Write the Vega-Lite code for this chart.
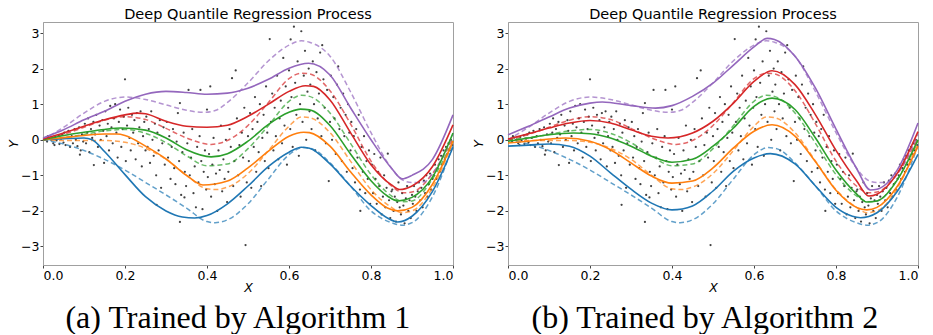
{
"$schema":"https://vega.github.io/schema/vega-lite/v6.json",
"padding":{"left":7,"right":5,"top":6,"bottom":0},
"background":"white",
"config":{
"view":{"stroke":"#a0a0a0","strokeWidth":1},
"font":"DejaVu Sans",
"axis":{"grid":false,"domainColor":"#a0a0a0","tickColor":"#444","tickSize":3,"labelFontSize":12.5,"labelColor":"#000","labelFont":"DejaVu Sans","titleFont":"DejaVu Sans","titleFontSize":12.5,"titleFontWeight":"normal","titleFontStyle":"italic","titleColor":"#000","labelPadding":1},
"title":{"font":"DejaVu Sans","fontSize":14.5,"fontWeight":"normal","color":"#000","offset":2,"dy":2},
"concat":{"spacing":15}
},
"datasets":{
"pts":[
{"x":0.005,"y":0.02},{"x":0.01,"y":-0.05},{"x":0.015,"y":0.06},{"x":0.02,"y":0.0},{"x":0.025,"y":-0.1},{"x":0.03,"y":0.08},{"x":0.033,"y":-0.02},{"x":0.038,"y":0.12},{"x":0.04,"y":-0.12},{"x":0.044,"y":0.03},{"x":0.047,"y":0.15},{"x":0.05,"y":-0.08},{"x":0.012,"y":0.1},{"x":0.028,"y":-0.15},
{"x":0.052,"y":0.2},{"x":0.055,"y":-0.15},{"x":0.058,"y":0.05},{"x":0.062,"y":0.25},{"x":0.066,"y":-0.2},{"x":0.07,"y":0.1},{"x":0.073,"y":-0.1},{"x":0.077,"y":0.3},{"x":0.08,"y":0.0},{"x":0.084,"y":-0.18},{"x":0.088,"y":0.35},{"x":0.092,"y":-0.3},{"x":0.095,"y":0.15},{"x":0.098,"y":-0.05},{"x":0.09,"y":-0.42},
{"x":0.102,"y":0.45},{"x":0.105,"y":-0.1},{"x":0.108,"y":0.2},{"x":0.11,"y":0.6},{"x":0.113,"y":-0.35},{"x":0.117,"y":0.3},{"x":0.12,"y":0.05},{"x":0.123,"y":0.5},{"x":0.124,"y":-0.71},{"x":0.127,"y":0.15},{"x":0.13,"y":0.7},{"x":0.134,"y":-0.2},{"x":0.138,"y":0.4},{"x":0.141,"y":0.0},{"x":0.145,"y":0.55},{"x":0.149,"y":-0.65},{"x":0.147,"y":0.25},
{"x":0.152,"y":0.8},{"x":0.155,"y":0.1},{"x":0.158,"y":0.45},{"x":0.161,"y":-0.3},{"x":0.164,"y":0.95},{"x":0.167,"y":0.35},{"x":0.17,"y":-0.1},{"x":0.173,"y":0.6},{"x":0.176,"y":1.0},{"x":0.179,"y":0.2},{"x":0.182,"y":-0.5},{"x":0.185,"y":0.5},{"x":0.188,"y":0.85},{"x":0.191,"y":-0.2},{"x":0.194,"y":0.3},{"x":0.197,"y":0.65},{"x":0.2,"y":1.7},
{"x":0.202,"y":-0.6},{"x":0.205,"y":0.4},{"x":0.208,"y":0.9},{"x":0.211,"y":0.05},{"x":0.214,"y":-0.3},{"x":0.217,"y":0.7},{"x":0.22,"y":0.2},{"x":0.223,"y":0.55},{"x":0.226,"y":-0.55},{"x":0.229,"y":0.75},{"x":0.232,"y":-0.1},{"x":0.235,"y":0.35},{"x":0.238,"y":0.8},{"x":0.241,"y":-0.75},{"x":0.244,"y":0.1},{"x":0.247,"y":0.5},{"x":0.25,"y":-0.3},
{"x":0.252,"y":0.65},{"x":0.255,"y":-0.2},{"x":0.258,"y":0.3},{"x":0.261,"y":-0.65},{"x":0.264,"y":0.8},{"x":0.267,"y":0.0},{"x":0.27,"y":-0.45},{"x":0.273,"y":0.45},{"x":0.276,"y":-1.0},{"x":0.279,"y":0.2},{"x":0.282,"y":-0.3},{"x":0.285,"y":0.55},{"x":0.288,"y":-1.35},{"x":0.291,"y":-0.1},{"x":0.294,"y":0.35},{"x":0.297,"y":-0.7},{"x":0.277,"y":-1.83},
{"x":0.302,"y":0.5},{"x":0.305,"y":-0.5},{"x":0.308,"y":0.1},{"x":0.311,"y":-1.1},{"x":0.314,"y":-0.2},{"x":0.317,"y":0.3},{"x":0.32,"y":-0.8},{"x":0.323,"y":-1.25},{"x":0.326,"y":-0.05},{"x":0.329,"y":0.75},{"x":0.332,"y":-0.6},{"x":0.334,"y":-2.31},{"x":0.334,"y":1.03},{"x":0.337,"y":-1.55},{"x":0.34,"y":-0.35},{"x":0.343,"y":0.2},{"x":0.346,"y":-0.9},{"x":0.349,"y":-1.3},{"x":0.345,"y":-1.62},
{"x":0.352,"y":-0.1},{"x":0.355,"y":1.4},{"x":0.358,"y":-1.0},{"x":0.361,"y":-0.5},{"x":0.364,"y":0.3},{"x":0.367,"y":-1.5},{"x":0.37,"y":-0.75},{"x":0.373,"y":-1.9},{"x":0.376,"y":-0.2},{"x":0.379,"y":-1.2},{"x":0.382,"y":0.1},{"x":0.384,"y":1.4},{"x":0.386,"y":-0.6},{"x":0.389,"y":-1.95},{"x":0.392,"y":-0.9},{"x":0.395,"y":-0.3},{"x":0.398,"y":-1.4},{"x":0.4,"y":0.85},
{"x":0.402,"y":-1.05},{"x":0.405,"y":-0.4},{"x":0.408,"y":1.5},{"x":0.41,"y":-1.6},{"x":0.413,"y":-0.7},{"x":0.416,"y":0.05},{"x":0.419,"y":-1.25},{"x":0.422,"y":-0.95},{"x":0.425,"y":-2.0},{"x":0.428,"y":-0.3},{"x":0.431,"y":-0.85},{"x":0.434,"y":0.4},{"x":0.437,"y":-1.45},{"x":0.44,"y":-0.55},{"x":0.443,"y":-1.1},{"x":0.446,"y":0.0},{"x":0.449,"y":-1.75},
{"x":0.452,"y":-0.9},{"x":0.455,"y":0.3},{"x":0.458,"y":-0.2},{"x":0.461,"y":1.73},{"x":0.464,"y":-1.3},{"x":0.467,"y":-0.6},{"x":0.47,"y":1.95},{"x":0.473,"y":0.6},{"x":0.476,"y":-1.0},{"x":0.479,"y":-0.15},{"x":0.482,"y":-1.6},{"x":0.485,"y":0.2},{"x":0.488,"y":-0.5},{"x":0.491,"y":0.9},{"x":0.494,"y":-2.96},{"x":0.497,"y":-1.2},{"x":0.5,"y":0.1},
{"x":0.502,"y":-0.6},{"x":0.505,"y":0.75},{"x":0.508,"y":-1.35},{"x":0.511,"y":0.3},{"x":0.514,"y":-0.2},{"x":0.517,"y":1.2},{"x":0.52,"y":-0.9},{"x":0.523,"y":0.5},{"x":0.526,"y":-0.35},{"x":0.529,"y":1.0},{"x":0.532,"y":-1.3},{"x":0.535,"y":0.05},{"x":0.538,"y":0.7},{"x":0.541,"y":-0.6},{"x":0.544,"y":1.5},{"x":0.547,"y":0.2},{"x":0.55,"y":-0.8},{"x":0.553,"y":2.83},
{"x":0.556,"y":0.5},{"x":0.559,"y":1.3},{"x":0.562,"y":-0.3},{"x":0.565,"y":0.9},{"x":0.568,"y":0.1},{"x":0.571,"y":1.8},{"x":0.574,"y":-0.55},{"x":0.577,"y":0.6},{"x":0.58,"y":1.1},{"x":0.583,"y":-0.1},{"x":0.586,"y":2.3},{"x":0.589,"y":0.4},{"x":0.592,"y":1.5},{"x":0.595,"y":-0.7},{"x":0.598,"y":0.9},{"x":0.6,"y":1.95},{"x":0.604,"y":2.82},
{"x":0.603,"y":0.3},{"x":0.606,"y":1.2},{"x":0.609,"y":-0.2},{"x":0.612,"y":3.18},{"x":0.615,"y":1.6},{"x":0.618,"y":0.7},{"x":0.621,"y":2.2},{"x":0.624,"y":-0.45},{"x":0.627,"y":1.0},{"x":0.63,"y":3.05},{"x":0.633,"y":0.5},{"x":0.636,"y":1.8},{"x":0.639,"y":2.5},{"x":0.642,"y":0.0},{"x":0.645,"y":1.35},{"x":0.648,"y":2.0},{"x":0.65,"y":0.8},
{"x":0.652,"y":1.55},{"x":0.655,"y":0.3},{"x":0.658,"y":2.2},{"x":0.661,"y":1.0},{"x":0.664,"y":-0.3},{"x":0.667,"y":1.9},{"x":0.67,"y":0.6},{"x":0.673,"y":1.3},{"x":0.676,"y":2.45},{"x":0.679,"y":0.1},{"x":0.681,"y":2.66},{"x":0.684,"y":1.7},{"x":0.687,"y":0.9},{"x":0.69,"y":-0.1},{"x":0.693,"y":1.4},{"x":0.697,"y":-1.16},{"x":0.7,"y":0.5},
{"x":0.702,"y":1.8},{"x":0.705,"y":0.0},{"x":0.708,"y":1.2},{"x":0.711,"y":0.6},{"x":0.714,"y":-0.4},{"x":0.717,"y":1.55},{"x":0.72,"y":2.06},{"x":0.723,"y":0.3},{"x":0.726,"y":0.9},{"x":0.729,"y":-0.6},{"x":0.732,"y":1.3},{"x":0.735,"y":0.1},{"x":0.738,"y":0.7},{"x":0.741,"y":-0.9},{"x":0.744,"y":1.0},{"x":0.747,"y":0.2},{"x":0.75,"y":-0.3},
{"x":0.752,"y":0.5},{"x":0.755,"y":-0.8},{"x":0.758,"y":0.1},{"x":0.761,"y":-1.2},{"x":0.764,"y":0.3},{"x":0.767,"y":-0.5},{"x":0.77,"y":0.7},{"x":0.773,"y":-1.4},{"x":0.774,"y":-2.0},{"x":0.777,"y":-0.2},{"x":0.78,"y":-0.9},{"x":0.783,"y":0.1},{"x":0.786,"y":-1.5},{"x":0.789,"y":-0.6},{"x":0.792,"y":-1.1},{"x":0.795,"y":-0.3},{"x":0.798,"y":-1.8},
{"x":0.802,"y":-0.7},{"x":0.805,"y":-1.5},{"x":0.808,"y":-0.4},{"x":0.811,"y":-1.1},{"x":0.814,"y":-1.8},{"x":0.817,"y":-0.9},{"x":0.82,"y":-1.3},{"x":0.823,"y":-0.5},{"x":0.826,"y":-2.1},{"x":0.829,"y":-1.6},{"x":0.832,"y":-1.0},{"x":0.835,"y":-1.9},{"x":0.838,"y":-1.35},{"x":0.841,"y":-0.39},{"x":0.844,"y":-1.7},{"x":0.847,"y":-2.2},{"x":0.85,"y":-1.45},
{"x":0.852,"y":-1.4},{"x":0.855,"y":-2.0},{"x":0.858,"y":-1.6},{"x":0.861,"y":-2.3},{"x":0.864,"y":-1.75},{"x":0.867,"y":-1.2},{"x":0.87,"y":-1.9},{"x":0.873,"y":-2.1},{"x":0.876,"y":-1.5},{"x":0.879,"y":-1.85},{"x":0.882,"y":-2.35},{"x":0.885,"y":-1.65},{"x":0.888,"y":-1.3},{"x":0.891,"y":-2.0},{"x":0.894,"y":-1.7},{"x":0.897,"y":-2.2},{"x":0.9,"y":-1.55},
{"x":0.902,"y":-1.8},{"x":0.905,"y":-1.3},{"x":0.908,"y":-1.6},{"x":0.911,"y":-2.0},{"x":0.914,"y":-1.45},{"x":0.917,"y":-1.2},{"x":0.92,"y":-1.7},{"x":0.923,"y":-1.35},{"x":0.926,"y":-1.9},{"x":0.929,"y":-1.15},{"x":0.932,"y":-1.5},{"x":0.935,"y":-1.0},{"x":0.938,"y":-1.6},{"x":0.941,"y":-1.25},{"x":0.944,"y":-0.95},{"x":0.947,"y":-1.4},{"x":0.95,"y":-1.1},
{"x":0.953,"y":-1.0},{"x":0.956,"y":-0.7},{"x":0.959,"y":-1.1},{"x":0.962,"y":-0.8},{"x":0.965,"y":-0.55},{"x":0.968,"y":-0.9},{"x":0.971,"y":-0.45},{"x":0.974,"y":-0.7},{"x":0.977,"y":-0.3},{"x":0.98,"y":-0.55},{"x":0.983,"y":-0.2},{"x":0.986,"y":-0.4},{"x":0.989,"y":-0.1},{"x":0.992,"y":-0.3},{"x":0.995,"y":0.0},{"x":0.998,"y":-0.15}
],
"truth":[
{"q":"1","x":0,"y":0},{"q":"1","x":0.05,"y":-0.12},{"q":"1","x":0.1,"y":-0.3},{"q":"1","x":0.15,"y":-0.55},{"q":"1","x":0.2,"y":-0.85},{"q":"1","x":0.25,"y":-1.2},{"q":"1","x":0.3,"y":-1.55},{"q":"1","x":0.35,"y":-1.92},{"q":"1","x":0.4,"y":-2.3},{"q":"1","x":0.42,"y":-2.33},{"q":"1","x":0.45,"y":-2.25},{"q":"1","x":0.5,"y":-1.8},{"q":"1","x":0.55,"y":-1.1},{"q":"1","x":0.6,"y":-0.42},{"q":"1","x":0.635,"y":-0.22},{"q":"1","x":0.66,"y":-0.27},{"q":"1","x":0.7,"y":-0.65},{"q":"1","x":0.75,"y":-1.3},{"q":"1","x":0.8,"y":-2.0},{"q":"1","x":0.85,"y":-2.33},{"q":"1","x":0.875,"y":-2.4},{"q":"1","x":0.9,"y":-2.33},{"q":"1","x":0.95,"y":-1.6},{"q":"1","x":1.0,"y":-0.15},
{"q":"2","x":0,"y":0},{"q":"2","x":0.05,"y":-0.02},{"q":"2","x":0.1,"y":-0.02},{"q":"2","x":0.15,"y":-0.02},{"q":"2","x":0.2,"y":-0.07},{"q":"2","x":0.25,"y":-0.24},{"q":"2","x":0.3,"y":-0.55},{"q":"2","x":0.35,"y":-1.0},{"q":"2","x":0.4,"y":-1.38},{"q":"2","x":0.42,"y":-1.4},{"q":"2","x":0.45,"y":-1.33},{"q":"2","x":0.5,"y":-0.95},{"q":"2","x":0.55,"y":-0.3},{"q":"2","x":0.6,"y":0.38},{"q":"2","x":0.63,"y":0.64},{"q":"2","x":0.65,"y":0.62},{"q":"2","x":0.7,"y":0.2},{"q":"2","x":0.75,"y":-0.6},{"q":"2","x":0.8,"y":-1.4},{"q":"2","x":0.85,"y":-1.9},{"q":"2","x":0.875,"y":-2.05},{"q":"2","x":0.9,"y":-2.0},{"q":"2","x":0.95,"y":-1.35},{"q":"2","x":1.0,"y":-0.05},
{"q":"3","x":0,"y":0},{"q":"3","x":0.05,"y":0.06},{"q":"3","x":0.1,"y":0.15},{"q":"3","x":0.15,"y":0.25},{"q":"3","x":0.2,"y":0.29},{"q":"3","x":0.25,"y":0.18},{"q":"3","x":0.3,"y":-0.08},{"q":"3","x":0.35,"y":-0.45},{"q":"3","x":0.4,"y":-0.73},{"q":"3","x":0.45,"y":-0.68},{"q":"3","x":0.5,"y":-0.25},{"q":"3","x":0.55,"y":0.4},{"q":"3","x":0.6,"y":1.08},{"q":"3","x":0.63,"y":1.25},{"q":"3","x":0.65,"y":1.22},{"q":"3","x":0.7,"y":0.75},{"q":"3","x":0.75,"y":-0.1},{"q":"3","x":0.8,"y":-0.98},{"q":"3","x":0.85,"y":-1.58},{"q":"3","x":0.88,"y":-1.74},{"q":"3","x":0.9,"y":-1.72},{"q":"3","x":0.95,"y":-1.1},{"q":"3","x":1.0,"y":-0.02},
{"q":"4","x":0,"y":0},{"q":"4","x":0.05,"y":0.15},{"q":"4","x":0.1,"y":0.35},{"q":"4","x":0.15,"y":0.55},{"q":"4","x":0.2,"y":0.65},{"q":"4","x":0.25,"y":0.57},{"q":"4","x":0.3,"y":0.32},{"q":"4","x":0.35,"y":0.05},{"q":"4","x":0.41,"y":-0.13},{"q":"4","x":0.45,"y":-0.02},{"q":"4","x":0.5,"y":0.4},{"q":"4","x":0.55,"y":1.05},{"q":"4","x":0.6,"y":1.72},{"q":"4","x":0.63,"y":1.87},{"q":"4","x":0.65,"y":1.85},{"q":"4","x":0.7,"y":1.38},{"q":"4","x":0.75,"y":0.45},{"q":"4","x":0.8,"y":-0.6},{"q":"4","x":0.85,"y":-1.3},{"q":"4","x":0.88,"y":-1.49},{"q":"4","x":0.9,"y":-1.47},{"q":"4","x":0.95,"y":-0.95},{"q":"4","x":1.0,"y":0.05},
{"q":"5","x":0,"y":0},{"q":"5","x":0.05,"y":0.35},{"q":"5","x":0.1,"y":0.75},{"q":"5","x":0.15,"y":1.08},{"q":"5","x":0.2,"y":1.2},{"q":"5","x":0.25,"y":1.13},{"q":"5","x":0.3,"y":0.98},{"q":"5","x":0.35,"y":0.83},{"q":"5","x":0.39,"y":0.77},{"q":"5","x":0.42,"y":0.82},{"q":"5","x":0.45,"y":1.05},{"q":"5","x":0.5,"y":1.6},{"q":"5","x":0.55,"y":2.22},{"q":"5","x":0.6,"y":2.66},{"q":"5","x":0.63,"y":2.78},{"q":"5","x":0.65,"y":2.74},{"q":"5","x":0.7,"y":2.35},{"q":"5","x":0.75,"y":1.35},{"q":"5","x":0.8,"y":0.2},{"q":"5","x":0.85,"y":-0.8},{"q":"5","x":0.88,"y":-1.15},{"q":"5","x":0.9,"y":-1.2},{"q":"5","x":0.93,"y":-1.18},{"q":"5","x":0.95,"y":-0.95},{"q":"5","x":1.0,"y":0.15}
],
"est":[
{"p":"a","q":"1","x":0,"y":0},{"p":"a","q":"1","x":0.05,"y":0.03},{"p":"a","q":"1","x":0.1,"y":0.05},{"p":"a","q":"1","x":0.12,"y":0.0},{"p":"a","q":"1","x":0.15,"y":-0.33},{"p":"a","q":"1","x":0.2,"y":-0.98},{"p":"a","q":"1","x":0.25,"y":-1.6},{"p":"a","q":"1","x":0.3,"y":-2.0},{"p":"a","q":"1","x":0.34,"y":-2.17},{"p":"a","q":"1","x":0.37,"y":-2.2},{"p":"a","q":"1","x":0.4,"y":-2.13},{"p":"a","q":"1","x":0.45,"y":-1.8},{"p":"a","q":"1","x":0.5,"y":-1.3},{"p":"a","q":"1","x":0.55,"y":-0.75},{"p":"a","q":"1","x":0.6,"y":-0.35},{"p":"a","q":"1","x":0.63,"y":-0.21},{"p":"a","q":"1","x":0.65,"y":-0.24},{"p":"a","q":"1","x":0.7,"y":-0.68},{"p":"a","q":"1","x":0.75,"y":-1.3},{"p":"a","q":"1","x":0.8,"y":-1.85},{"p":"a","q":"1","x":0.84,"y":-2.2},{"p":"a","q":"1","x":0.865,"y":-2.31},{"p":"a","q":"1","x":0.9,"y":-2.15},{"p":"a","q":"1","x":0.95,"y":-1.45},{"p":"a","q":"1","x":1.0,"y":-0.21},
{"p":"a","q":"2","x":0,"y":0},{"p":"a","q":"2","x":0.05,"y":0.06},{"p":"a","q":"2","x":0.1,"y":0.12},{"p":"a","q":"2","x":0.15,"y":0.16},{"p":"a","q":"2","x":0.18,"y":0.16},{"p":"a","q":"2","x":0.2,"y":0.12},{"p":"a","q":"2","x":0.25,"y":-0.18},{"p":"a","q":"2","x":0.3,"y":-0.54},{"p":"a","q":"2","x":0.35,"y":-1.0},{"p":"a","q":"2","x":0.39,"y":-1.27},{"p":"a","q":"2","x":0.45,"y":-1.16},{"p":"a","q":"2","x":0.5,"y":-0.79},{"p":"a","q":"2","x":0.55,"y":-0.32},{"p":"a","q":"2","x":0.6,"y":0.1},{"p":"a","q":"2","x":0.636,"y":0.21},{"p":"a","q":"2","x":0.65,"y":0.2},{"p":"a","q":"2","x":0.7,"y":-0.18},{"p":"a","q":"2","x":0.75,"y":-0.9},{"p":"a","q":"2","x":0.8,"y":-1.55},{"p":"a","q":"2","x":0.84,"y":-1.92},{"p":"a","q":"2","x":0.865,"y":-2.0},{"p":"a","q":"2","x":0.9,"y":-1.9},{"p":"a","q":"2","x":0.95,"y":-1.25},{"p":"a","q":"2","x":1.0,"y":-0.04},
{"p":"a","q":"3","x":0,"y":0},{"p":"a","q":"3","x":0.05,"y":0.12},{"p":"a","q":"3","x":0.1,"y":0.21},{"p":"a","q":"3","x":0.15,"y":0.29},{"p":"a","q":"3","x":0.19,"y":0.33},{"p":"a","q":"3","x":0.25,"y":0.27},{"p":"a","q":"3","x":0.3,"y":0.05},{"p":"a","q":"3","x":0.35,"y":-0.28},{"p":"a","q":"3","x":0.41,"y":-0.48},{"p":"a","q":"3","x":0.45,"y":-0.39},{"p":"a","q":"3","x":0.5,"y":-0.04},{"p":"a","q":"3","x":0.55,"y":0.43},{"p":"a","q":"3","x":0.6,"y":0.77},{"p":"a","q":"3","x":0.628,"y":0.86},{"p":"a","q":"3","x":0.65,"y":0.84},{"p":"a","q":"3","x":0.7,"y":0.4},{"p":"a","q":"3","x":0.75,"y":-0.4},{"p":"a","q":"3","x":0.8,"y":-1.15},{"p":"a","q":"3","x":0.84,"y":-1.58},{"p":"a","q":"3","x":0.865,"y":-1.72},{"p":"a","q":"3","x":0.9,"y":-1.62},{"p":"a","q":"3","x":0.95,"y":-1.05},{"p":"a","q":"3","x":1.0,"y":0.19},
{"p":"a","q":"4","x":0,"y":0.02},{"p":"a","q":"4","x":0.05,"y":0.19},{"p":"a","q":"4","x":0.1,"y":0.38},{"p":"a","q":"4","x":0.15,"y":0.56},{"p":"a","q":"4","x":0.2,"y":0.7},{"p":"a","q":"4","x":0.23,"y":0.75},{"p":"a","q":"4","x":0.25,"y":0.73},{"p":"a","q":"4","x":0.3,"y":0.52},{"p":"a","q":"4","x":0.35,"y":0.38},{"p":"a","q":"4","x":0.4,"y":0.35},{"p":"a","q":"4","x":0.45,"y":0.41},{"p":"a","q":"4","x":0.5,"y":0.66},{"p":"a","q":"4","x":0.55,"y":1.0},{"p":"a","q":"4","x":0.6,"y":1.36},{"p":"a","q":"4","x":0.64,"y":1.52},{"p":"a","q":"4","x":0.66,"y":1.5},{"p":"a","q":"4","x":0.7,"y":1.12},{"p":"a","q":"4","x":0.75,"y":0.2},{"p":"a","q":"4","x":0.8,"y":-0.7},{"p":"a","q":"4","x":0.85,"y":-1.27},{"p":"a","q":"4","x":0.87,"y":-1.4},{"p":"a","q":"4","x":0.9,"y":-1.3},{"p":"a","q":"4","x":0.95,"y":-0.75},{"p":"a","q":"4","x":1.0,"y":0.42},
{"p":"a","q":"5","x":0,"y":0.05},{"p":"a","q":"5","x":0.05,"y":0.28},{"p":"a","q":"5","x":0.1,"y":0.56},{"p":"a","q":"5","x":0.15,"y":0.8},{"p":"a","q":"5","x":0.2,"y":1.08},{"p":"a","q":"5","x":0.25,"y":1.28},{"p":"a","q":"5","x":0.3,"y":1.36},{"p":"a","q":"5","x":0.35,"y":1.33},{"p":"a","q":"5","x":0.4,"y":1.28},{"p":"a","q":"5","x":0.45,"y":1.31},{"p":"a","q":"5","x":0.5,"y":1.45},{"p":"a","q":"5","x":0.55,"y":1.7},{"p":"a","q":"5","x":0.6,"y":2.01},{"p":"a","q":"5","x":0.648,"y":2.15},{"p":"a","q":"5","x":0.7,"y":1.82},{"p":"a","q":"5","x":0.75,"y":0.9},{"p":"a","q":"5","x":0.8,"y":0.0},{"p":"a","q":"5","x":0.85,"y":-0.8},{"p":"a","q":"5","x":0.876,"y":-1.1},{"p":"a","q":"5","x":0.9,"y":-1.0},{"p":"a","q":"5","x":0.95,"y":-0.55},{"p":"a","q":"5","x":1.0,"y":0.7},
{"p":"b","q":"1","x":0,"y":-0.18},{"p":"b","q":"1","x":0.05,"y":-0.15},{"p":"b","q":"1","x":0.1,"y":-0.12},{"p":"b","q":"1","x":0.15,"y":-0.18},{"p":"b","q":"1","x":0.2,"y":-0.46},{"p":"b","q":"1","x":0.25,"y":-0.93},{"p":"b","q":"1","x":0.3,"y":-1.39},{"p":"b","q":"1","x":0.35,"y":-1.78},{"p":"b","q":"1","x":0.4,"y":-1.97},{"p":"b","q":"1","x":0.45,"y":-1.86},{"p":"b","q":"1","x":0.5,"y":-1.44},{"p":"b","q":"1","x":0.55,"y":-0.88},{"p":"b","q":"1","x":0.6,"y":-0.51},{"p":"b","q":"1","x":0.64,"y":-0.39},{"p":"b","q":"1","x":0.7,"y":-0.68},{"p":"b","q":"1","x":0.75,"y":-1.3},{"p":"b","q":"1","x":0.8,"y":-1.9},{"p":"b","q":"1","x":0.84,"y":-2.15},{"p":"b","q":"1","x":0.86,"y":-2.19},{"p":"b","q":"1","x":0.9,"y":-2.05},{"p":"b","q":"1","x":0.95,"y":-1.44},{"p":"b","q":"1","x":1.0,"y":-0.41},
{"p":"b","q":"2","x":0,"y":-0.09},{"p":"b","q":"2","x":0.05,"y":-0.04},{"p":"b","q":"2","x":0.1,"y":0.02},{"p":"b","q":"2","x":0.14,"y":0.05},{"p":"b","q":"2","x":0.2,"y":-0.04},{"p":"b","q":"2","x":0.25,"y":-0.28},{"p":"b","q":"2","x":0.3,"y":-0.65},{"p":"b","q":"2","x":0.35,"y":-1.02},{"p":"b","q":"2","x":0.4,"y":-1.22},{"p":"b","q":"2","x":0.45,"y":-1.16},{"p":"b","q":"2","x":0.5,"y":-0.79},{"p":"b","q":"2","x":0.55,"y":-0.23},{"p":"b","q":"2","x":0.6,"y":0.24},{"p":"b","q":"2","x":0.644,"y":0.42},{"p":"b","q":"2","x":0.7,"y":0.1},{"p":"b","q":"2","x":0.75,"y":-0.62},{"p":"b","q":"2","x":0.8,"y":-1.42},{"p":"b","q":"2","x":0.85,"y":-1.9},{"p":"b","q":"2","x":0.875,"y":-1.97},{"p":"b","q":"2","x":0.9,"y":-1.9},{"p":"b","q":"2","x":0.95,"y":-1.3},{"p":"b","q":"2","x":1.0,"y":-0.18},
{"p":"b","q":"3","x":0,"y":-0.04},{"p":"b","q":"3","x":0.05,"y":0.05},{"p":"b","q":"3","x":0.1,"y":0.14},{"p":"b","q":"3","x":0.16,"y":0.19},{"p":"b","q":"3","x":0.2,"y":0.17},{"p":"b","q":"3","x":0.25,"y":0.05},{"p":"b","q":"3","x":0.3,"y":-0.18},{"p":"b","q":"3","x":0.35,"y":-0.46},{"p":"b","q":"3","x":0.4,"y":-0.63},{"p":"b","q":"3","x":0.45,"y":-0.55},{"p":"b","q":"3","x":0.5,"y":-0.18},{"p":"b","q":"3","x":0.55,"y":0.33},{"p":"b","q":"3","x":0.6,"y":0.94},{"p":"b","q":"3","x":0.644,"y":1.17},{"p":"b","q":"3","x":0.7,"y":0.85},{"p":"b","q":"3","x":0.75,"y":0.05},{"p":"b","q":"3","x":0.8,"y":-0.85},{"p":"b","q":"3","x":0.85,"y":-1.52},{"p":"b","q":"3","x":0.875,"y":-1.75},{"p":"b","q":"3","x":0.9,"y":-1.72},{"p":"b","q":"3","x":0.95,"y":-1.12},{"p":"b","q":"3","x":1.0,"y":0.0},
{"p":"b","q":"4","x":0,"y":0.02},{"p":"b","q":"4","x":0.05,"y":0.17},{"p":"b","q":"4","x":0.1,"y":0.33},{"p":"b","q":"4","x":0.15,"y":0.47},{"p":"b","q":"4","x":0.2,"y":0.54},{"p":"b","q":"4","x":0.25,"y":0.47},{"p":"b","q":"4","x":0.3,"y":0.28},{"p":"b","q":"4","x":0.35,"y":0.1},{"p":"b","q":"4","x":0.39,"y":0.05},{"p":"b","q":"4","x":0.45,"y":0.19},{"p":"b","q":"4","x":0.5,"y":0.52},{"p":"b","q":"4","x":0.55,"y":1.03},{"p":"b","q":"4","x":0.6,"y":1.64},{"p":"b","q":"4","x":0.644,"y":1.94},{"p":"b","q":"4","x":0.7,"y":1.55},{"p":"b","q":"4","x":0.75,"y":0.7},{"p":"b","q":"4","x":0.8,"y":-0.3},{"p":"b","q":"4","x":0.85,"y":-1.15},{"p":"b","q":"4","x":0.88,"y":-1.58},{"p":"b","q":"4","x":0.9,"y":-1.53},{"p":"b","q":"4","x":0.95,"y":-0.93},{"p":"b","q":"4","x":1.0,"y":0.23},
{"p":"b","q":"5","x":0,"y":0.14},{"p":"b","q":"5","x":0.05,"y":0.38},{"p":"b","q":"5","x":0.1,"y":0.64},{"p":"b","q":"5","x":0.15,"y":0.89},{"p":"b","q":"5","x":0.2,"y":1.03},{"p":"b","q":"5","x":0.23,"y":1.06},{"p":"b","q":"5","x":0.3,"y":0.96},{"p":"b","q":"5","x":0.36,"y":0.89},{"p":"b","q":"5","x":0.4,"y":0.96},{"p":"b","q":"5","x":0.45,"y":1.22},{"p":"b","q":"5","x":0.5,"y":1.59},{"p":"b","q":"5","x":0.55,"y":2.1},{"p":"b","q":"5","x":0.6,"y":2.61},{"p":"b","q":"5","x":0.632,"y":2.85},{"p":"b","q":"5","x":0.65,"y":2.82},{"p":"b","q":"5","x":0.7,"y":2.35},{"p":"b","q":"5","x":0.75,"y":1.45},{"p":"b","q":"5","x":0.8,"y":0.3},{"p":"b","q":"5","x":0.85,"y":-0.8},{"p":"b","q":"5","x":0.884,"y":-1.41},{"p":"b","q":"5","x":0.9,"y":-1.39},{"p":"b","q":"5","x":0.95,"y":-0.84},{"p":"b","q":"5","x":1.0,"y":0.47}
]
},
"hconcat":[
{"title":{"text":"(a) Trained by Algorithm 1","orient":"bottom","anchor":"middle","font":"Liberation Serif","fontSize":32,"fontWeight":"normal","fontStyle":"normal","color":"#000","offset":8,"dy":0,"dx":6},
"vconcat":[{"width":410,"height":243,"title":"Deep Quantile Regression Process",
"encoding":{
"x":{"field":"x","type":"quantitative","scale":{"domain":[0,1],"nice":false},"axis":{"values":[0,0.2,0.4,0.6,0.8,1],"format":".1f","title":"X","titlePadding":0}},
"y":{"field":"y","type":"quantitative","scale":{"domain":[-3.52,3.31],"nice":false},"axis":{"values":[-3,-2,-1,0,1,2,3],"format":"d","title":"Y","titlePadding":0}}},
"layer":[
{"data":{"name":"pts"},"mark":{"type":"circle","size":5,"color":"#000","opacity":0.75}},
{"data":{"name":"truth"},"mark":{"type":"line","strokeDash":[5,3],"strokeWidth":1.5,"opacity":0.7,"interpolate":"monotone"},"encoding":{"color":{"field":"q","type":"nominal","scale":{"domain":["1","2","3","4","5"],"range":["#1f77b4","#ff7f0e","#2ca02c","#d62728","#9467bd"]},"legend":null}}},
{"data":{"name":"est"},"transform":[{"filter":"datum.p==='a'"}],"mark":{"type":"line","strokeWidth":1.6,"interpolate":"monotone"},"encoding":{"color":{"field":"q","type":"nominal","scale":{"domain":["1","2","3","4","5"],"range":["#1f77b4","#ff7f0e","#2ca02c","#d62728","#9467bd"]},"legend":null}}}
]}]},
{"title":{"text":"(b) Trained by Algorithm 2","orient":"bottom","anchor":"middle","font":"Liberation Serif","fontSize":32,"fontWeight":"normal","fontStyle":"normal","color":"#000","offset":8,"dy":0,"dx":8},
"vconcat":[{"width":410,"height":243,"title":"Deep Quantile Regression Process",
"encoding":{
"x":{"field":"x","type":"quantitative","scale":{"domain":[0,1],"nice":false},"axis":{"values":[0,0.2,0.4,0.6,0.8,1],"format":".1f","title":"X","titlePadding":0}},
"y":{"field":"y","type":"quantitative","scale":{"domain":[-3.52,3.31],"nice":false},"axis":{"values":[-3,-2,-1,0,1,2,3],"format":"d","title":"Y","titlePadding":0}}},
"layer":[
{"data":{"name":"pts"},"mark":{"type":"circle","size":5,"color":"#000","opacity":0.75}},
{"data":{"name":"truth"},"mark":{"type":"line","strokeDash":[5,3],"strokeWidth":1.5,"opacity":0.7,"interpolate":"monotone"},"encoding":{"color":{"field":"q","type":"nominal","scale":{"domain":["1","2","3","4","5"],"range":["#1f77b4","#ff7f0e","#2ca02c","#d62728","#9467bd"]},"legend":null}}},
{"data":{"name":"est"},"transform":[{"filter":"datum.p==='b'"}],"mark":{"type":"line","strokeWidth":1.6,"interpolate":"monotone"},"encoding":{"color":{"field":"q","type":"nominal","scale":{"domain":["1","2","3","4","5"],"range":["#1f77b4","#ff7f0e","#2ca02c","#d62728","#9467bd"]},"legend":null}}}
]}]}
]
}
